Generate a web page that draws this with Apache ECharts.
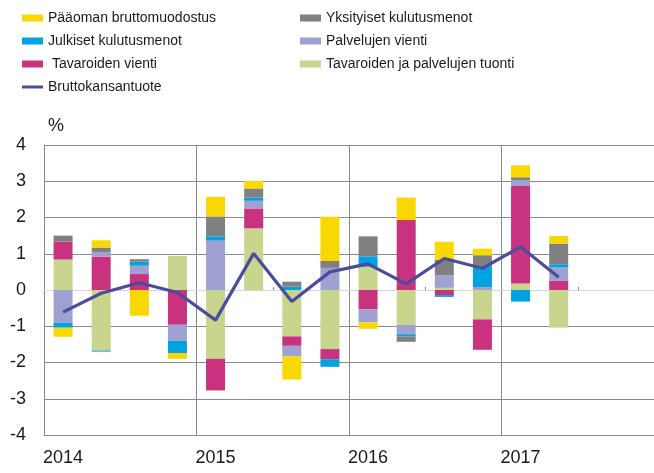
<!DOCTYPE html>
<html>
<head>
<meta charset="utf-8">
<script src="https://cdn.jsdelivr.net/npm/echarts@6/dist/echarts.min.js"></script>
<style>html,body{margin:0;padding:0;background:#fff}#c{width:654px;height:473px}</style>
</head>
<body>
<div id="c"></div>
<script>
const categories = ['2014Q1','2014Q2','2014Q3','2014Q4','2015Q1','2015Q2','2015Q3','2015Q4',
  '2016Q1','2016Q2','2016Q3','2016Q4','2017Q1','2017Q2','2017Q3','2017Q4'];
const yTicks = [-4, -3, -2, -1, 0, 1, 2, 3, 4];

const tuonti      = [0.84, -1.67, 0, 0.94, -1.90, 1.70, -1.28, -1.63, 0.64, -0.96, 0.06, -0.81, 0.18, -1.04];
const tavVienti   = [0.50, 0.92, 0.44, -0.96, -0.87, 0.55, -0.26, -0.28, -0.53, 1.93, -0.14, -0.84, 2.69, 0.25];
const palvVienti  = [-0.90, 0.13, 0.23, -0.44, 1.36, 0.21, -0.29, 0.61, -0.36, -0.26, 0.35, 0.08, 0.15, 0.37];
const julkiset    = [-0.14, -0.03, 0.11, -0.34, 0.12, 0.09, 0.09, -0.21, 0.29, -0.06, -0.05, 0.58, -0.32, 0.09];
const yksityiset  = [0.16, 0.12, 0.07, 0, 0.55, 0.25, 0.14, 0.19, 0.55, -0.15, 0.43, 0.30, 0.09, 0.57];
const paaoma      = [-0.25, 0.20, -0.71, -0.16, 0.54, 0.21, -0.64, 1.22, -0.18, 0.62, 0.49, 0.18, 0.33, 0.21];
const bkt         = [-0.61, -0.09, 0.20, -0.07, -0.83, 1.01, -0.32, 0.50, 0.72, 0.17, 0.87, 0.60, 1.19, 0.35];

const names = {
  paaoma: 'Pääoman bruttomuodostus',
  yksityiset: 'Yksityiset kulutusmenot',
  julkiset: 'Julkiset kulutusmenot',
  palv: 'Palvelujen vienti',
  tav: ' Tavaroiden vienti',
  tuonti: 'Tavaroiden ja palvelujen tuonti',
  bkt: 'Bruttokansantuote'
};

const chart = echarts.init(document.getElementById('c'), null, {renderer: 'canvas'});
const font = '"Liberation Sans", Arial, sans-serif';
function bar(name, data, color) {
  return {name, type: 'bar', stack: 'tot', data, barWidth: 19, itemStyle: {color}, xAxisIndex: 0};
}
const legendCommon = {
  orient: 'vertical', itemWidth: 21, itemHeight: 7, itemGap: 7, padding: 0, icon: 'rect',
  textStyle: {fontFamily: font, fontSize: 14, color: '#1a1a1a', lineHeight: 16},
  selectedMode: false
};
chart.setOption({
  animation: false,
  backgroundColor: '#fff',
  textStyle: {fontFamily: font},
  legend: [
    Object.assign({left: 22, top: 10, data: [names.paaoma, names.julkiset, names.tav,
      {name: names.bkt, icon: 'path://M0,0M0,7M0,2H21V5H0Z'}]}, legendCommon),
    Object.assign({left: 300, top: 10, data: [names.yksityiset, names.palv, names.tuonti]}, legendCommon)
  ],
  grid: {left: 44, top: 145, width: 623, height: 290, containLabel: false},
  xAxis: [{
    type: 'category', data: categories,
    axisLine: {onZero: false, show: true, lineStyle: {color: '#888', width: 1}},
    axisTick: {show: false},
    axisLabel: {interval: 0, fontSize: 18, color: '#1a1a1a', fontFamily: font, margin: 14,
      formatter: v => v.endsWith('Q1') ? v.slice(0, 4) : ''},
    splitLine: {show: true, interval: (i) => i % 4 === 0, lineStyle: {color: '#8a8a8a', width: 1}}
  }, {
    type: 'category', data: categories, position: 'bottom',
    axisLine: {onZero: true, show: true, lineStyle: {color: '#d6d6d6', width: 1}},
    axisTick: {show: true, inside: true, length: 3, interval: (i) => i % 4 === 2, lineStyle: {color: '#888'}},
    axisLabel: {show: false},
    splitLine: {show: false}
  }],
  yAxis: {
    type: 'value', min: yTicks[0], max: yTicks[yTicks.length - 1], interval: 1,
    name: '%', nameLocation: 'end', nameGap: 10,
    nameTextStyle: {fontSize: 18, color: '#1a1a1a', fontFamily: font, align: 'left', padding: [0, 0, 0, 4]},
    axisLine: {show: true, lineStyle: {color: '#888'}},
    axisTick: {show: false},
    axisLabel: {fontSize: 18, color: '#1a1a1a', fontFamily: font, margin: 18},
    splitLine: {show: true, lineStyle: {color: ['#8a8a8a','#8a8a8a','#8a8a8a','#8a8a8a','#d6d6d6','#8a8a8a','#8a8a8a','#8a8a8a','#8a8a8a'], width: 1}}
  },
  series: [
    bar(names.tuonti, tuonti, '#C9D58D'),
    bar(names.tav, tavVienti, '#C8327F'),
    bar(names.palv, palvVienti, '#A0A1D3'),
    bar(names.julkiset, julkiset, '#00A2E1'),
    bar(names.yksityiset, yksityiset, '#808080'),
    bar(names.paaoma, paaoma, '#F9D800'),
    {name: names.bkt, type: 'line', data: bkt, symbol: 'none', xAxisIndex: 0,
      lineStyle: {color: '#4A4C9C', width: 3.2}, itemStyle: {color: '#4A4C9C'}, z: 5}
  ]
});
</script>
</body>
</html>
